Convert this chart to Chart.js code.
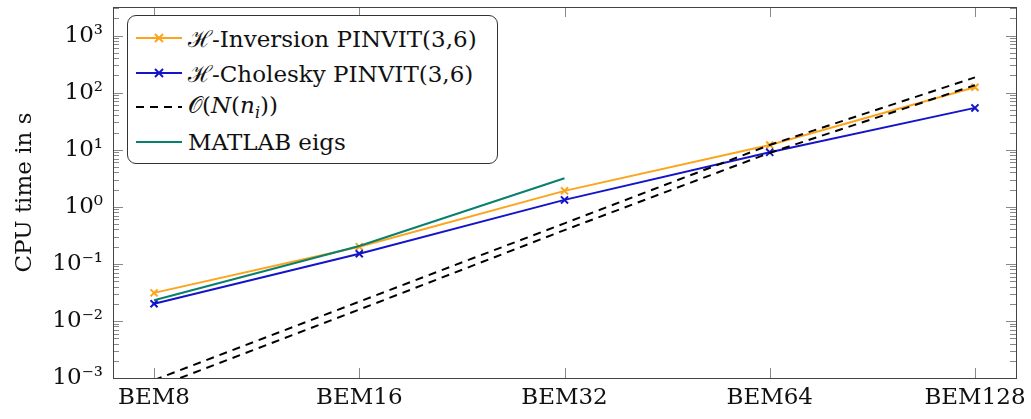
<!DOCTYPE html>
<html>
<head>
<meta charset="utf-8">
<script src="https://cdn.jsdelivr.net/npm/chart.js@4"></script>
<style>
  html, body { margin: 0; padding: 0; background: #fff; }
  #wrap { position: relative; width: 1031px; height: 419px; }
  #legend {
    position: absolute; left: 127px; top: 15px; width: 369px; height: 147px;
    border: 1px solid #333; border-radius: 9px; background: #fff;
    font-family: 'DejaVu Serif', serif; font-size: 23px; color: #111;
  }
  .row { position: absolute; left: 8px; height: 30px; display: flex; align-items: center; white-space: nowrap; }
  .row svg { margin-right: 6px; }
  sub { font-size: 16px; vertical-align: -5px; }
</style>
</head>
<body>
<div id="wrap">
  <canvas id="chart"></canvas>
  <div id="legend">
    <div class="row" style="top:7px">
      <svg width="46" height="12"><line x1="0" y1="6" x2="46" y2="6" stroke="#fca41c" stroke-width="2"/><path d="M19 2 L27 10 M27 2 L19 10" stroke="#fca41c" stroke-width="2"/></svg>
      <span>ℋ-Inversion PINVIT(3,6)</span>
    </div>
    <div class="row" style="top:42px">
      <svg width="46" height="12"><line x1="0" y1="6" x2="46" y2="6" stroke="#1414c8" stroke-width="2"/><path d="M19 2 L27 10 M27 2 L19 10" stroke="#1414c8" stroke-width="2"/></svg>
      <span>ℋ-Cholesky PINVIT(3,6)</span>
    </div>
    <div class="row" style="top:76px">
      <svg width="46" height="12"><line x1="0" y1="6" x2="46" y2="6" stroke="#000" stroke-width="2" stroke-dasharray="8 6"/></svg>
      <span>𝒪(<i>N</i>(<i>n<sub>i</sub></i>))</span>
    </div>
    <div class="row" style="top:111px">
      <svg width="46" height="12"><line x1="0" y1="6" x2="46" y2="6" stroke="#08806c" stroke-width="2"/></svg>
      <span>MATLAB eigs</span>
    </div>
  </div>
</div>
<script>
// categories (problem sizes)
const cats = ["BEM8", "BEM16", "BEM32", "BEM64", "BEM128"];
// CPU time in seconds
const hInversion = [0.031, 0.20, 1.9, 12.1, 124];
const hCholesky = [0.020, 0.15, 1.32, 9.0, 54];
const matlabEigs = [0.023, 0.205, 3.16];
// two reference slopes O(N(n_i))
const orderUpper = [0.00092, 0.0218, 0.513, 12.1, 185];
const orderLower = [0.00067, 0.0158, 0.39, 8.8, 135];
// y axis decades
const decades = [1e-3, 1e-2, 1e-1, 1, 10, 100, 1000];

const serif = "'DejaVu Serif', serif";
const pts = arr => arr.map((v, i) => ({ x: i, y: v }));
const supDigits = { "-": "⁻", "0": "⁰", "1": "¹", "2": "²", "3": "³", "4": "⁴", "5": "⁵", "6": "⁶", "7": "⁷", "8": "⁸", "9": "⁹" };
const sup = n => String(n).split("").map(c => supDigits[c]).join("");

// frame and inward tick marks like pgfplots
const frameTicks = {
  id: "frameTicks",
  afterDatasetsDraw(chart) {
    const { ctx, chartArea: a, scales: { x, y } } = chart;
    ctx.save();
    ctx.lineWidth = 1;
    ctx.strokeStyle = "#888";
    ctx.beginPath();
    for (let e = -3; e <= 3; e++) {
      for (let k = 1; k <= 9; k++) {
        const v = k * Math.pow(10, e);
        if (v > y.max) break;
        const py = Math.round(y.getPixelForValue(v)) + 0.5;
        const len = k === 1 ? 10 : 6;
        ctx.moveTo(a.left, py); ctx.lineTo(a.left + len, py);
        ctx.moveTo(a.right, py); ctx.lineTo(a.right - len, py);
      }
    }
    cats.forEach((c, i) => {
      const px = Math.round(x.getPixelForValue(i)) + 0.5;
      ctx.moveTo(px, a.bottom); ctx.lineTo(px, a.bottom - 10);
      ctx.moveTo(px, a.top); ctx.lineTo(px, a.top + 10);
    });
    ctx.stroke();
    ctx.strokeStyle = "#444";
    ctx.strokeRect(Math.round(a.left) + 0.5, Math.round(a.top) + 0.5,
      Math.round(a.right - a.left), Math.round(a.bottom - a.top));
    ctx.restore();
  }
};

const lineDs = (label, data, color, extra) => Object.assign({
  label, data: pts(data), borderColor: color, backgroundColor: color,
  borderWidth: 2, pointStyle: "crossRot", pointRadius: 5, pointBorderWidth: 2,
  pointHoverRadius: 5, tension: 0
}, extra);

new Chart(document.getElementById("chart"), {
  type: "line",
  data: {
    datasets: [
      lineDs("O upper", orderUpper, "#000", { borderDash: [8, 6], pointRadius: 0 }),
      lineDs("O lower", orderLower, "#000", { borderDash: [8, 6], pointRadius: 0 }),
      lineDs("MATLAB eigs", matlabEigs, "#08806c", { pointRadius: 0 }),
      lineDs("H-Cholesky PINVIT(3,6)", hCholesky, "#1414c8"),
      lineDs("H-Inversion PINVIT(3,6)", hInversion, "#fca41c"),
    ]
  },
  options: {
    responsive: true,
    maintainAspectRatio: false,
    animation: false,
    layout: { padding: { top: 3, right: 15, left: 0, bottom: 0 } },
    plugins: { legend: { display: false }, tooltip: { enabled: false } },
    scales: {
      x: {
        type: "linear", min: -0.2, max: 4.2,
        afterBuildTicks: s => { s.ticks = cats.map((c, i) => ({ value: i })); },
        ticks: { callback: v => cats[v], font: { family: serif, size: 23 }, color: "#111", padding: 6, maxRotation: 0 },
        grid: { display: false, drawTicks: false },
        border: { display: false },
        afterFit: s => { s.height = 41; s.paddingLeft = 0; s.paddingRight = 0; }
      },
      y: {
        type: "logarithmic", min: 1e-3, max: Math.pow(10, 3.5),
        afterBuildTicks: s => { s.ticks = decades.map(v => ({ value: v })); },
        ticks: { callback: v => "10" + sup(Math.round(Math.log10(v))), font: { family: serif, size: 23 }, color: "#111", padding: 10 },
        grid: { display: false, drawTicks: false },
        border: { display: false },
        title: { display: true, text: "CPU time in s", font: { family: serif, size: 23 }, color: "#111", padding: { top: 11, bottom: 0 } },
        afterFit: s => { s.width = 113; s.paddingTop = 0; s.paddingBottom = 0; }
      }
    }
  },
  plugins: [frameTicks]
});
</script>
</body>
</html>
